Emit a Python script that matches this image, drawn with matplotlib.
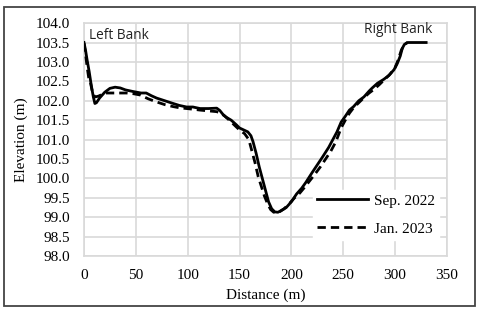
import matplotlib.pyplot as plt
from matplotlib.patches import Rectangle

# cross-section survey, distance (m) vs elevation (m)
sep_dist = [0, 1.5, 3, 5, 7, 9, 10.5, 12, 15, 20, 25, 30, 35, 40, 47, 55, 60, 65, 70, 78,
            86, 92, 99, 105, 112, 120, 128, 131, 134, 137, 142, 147, 150, 154, 158, 161,
            163, 166, 169, 172, 175, 178, 181, 184, 187, 190, 195, 200, 205, 210, 214,
            220, 225, 230, 236, 240, 244, 248, 252, 256, 260, 265, 270, 275, 278, 283,
            289, 294, 299, 302, 305, 307, 309, 312, 320, 330]
sep_elev = [103.5, 103.3, 103.05, 102.75, 102.4, 102.1, 101.93, 101.95, 102.07, 102.22,
            102.32, 102.35, 102.33, 102.28, 102.24, 102.2, 102.2, 102.13, 102.07, 102.0,
            101.93, 101.88, 101.84, 101.84, 101.8, 101.8, 101.81, 101.75, 101.65, 101.58,
            101.5, 101.38, 101.3, 101.25, 101.2, 101.1, 100.95, 100.65, 100.3, 100.0,
            99.7, 99.4, 99.22, 99.14, 99.13, 99.17, 99.25, 99.4, 99.6, 99.75, 99.9,
            100.15, 100.35, 100.55, 100.8, 101.0, 101.2, 101.45, 101.6, 101.76, 101.85,
            102.0, 102.1, 102.25, 102.33, 102.45, 102.55, 102.65, 102.8, 102.95, 103.15,
            103.35, 103.45, 103.5, 103.5, 103.5]

jan_dist = [0, 1.5, 3, 4.5, 6, 7.5, 9, 11, 14, 18, 22, 28, 35, 41, 48, 54, 62, 70, 78, 86,
            92, 99, 106, 112, 120, 128, 132, 136, 141, 146, 150, 155, 159, 162, 165, 168,
            171, 174, 177, 180, 183, 186, 189, 193, 198, 203, 208, 213, 218, 223, 228,
            233, 238, 243, 248, 252, 256, 260, 265, 270, 275, 280, 285, 290, 295, 300,
            303, 306, 309, 312]
jan_elev = [103.48, 103.2, 102.87, 102.6, 102.5, 102.3, 102.15, 102.1, 102.12, 102.17,
            102.2, 102.2, 102.2, 102.2, 102.18, 102.15, 102.05, 101.97, 101.9, 101.85,
            101.82, 101.8, 101.78, 101.76, 101.74, 101.72, 101.68, 101.6, 101.48, 101.35,
            101.25, 101.15, 101.0, 100.7, 100.4, 100.05, 99.8, 99.55, 99.35, 99.2, 99.13,
            99.12, 99.15, 99.22, 99.35, 99.5, 99.62, 99.78, 99.95, 100.12, 100.3, 100.5,
            100.7, 100.95, 101.3, 101.5, 101.68, 101.82, 101.95, 102.08, 102.2, 102.3,
            102.42, 102.55, 102.68, 102.85, 103.05, 103.3, 103.45, 103.5]

x_ticks = [0, 50, 100, 150, 200, 250, 300, 350]
y_ticks = [98.0 + 0.5 * i for i in range(13)]

serif = 'Liberation Serif'
grid_col = '#d9d9d9'

fig = plt.figure(figsize=(4.8, 3.12), dpi=100)
ax = fig.add_axes([0.175, 0.179, 0.756, 0.747])

ax.plot(sep_dist, sep_elev, color='black', lw=2, label='Sep. 2022', zorder=3)
ax.plot(jan_dist, jan_elev, color='black', lw=2, dashes=(3, 1.8), label='Jan. 2023', zorder=3)

ax.set_xlim(0, 350)
ax.set_ylim(98, 104)
ax.set_xticks(x_ticks)
ax.set_yticks(y_ticks)
ax.set_xticklabels([str(t) for t in x_ticks], fontfamily=serif, fontsize=11)
ax.set_yticklabels([f'{t:.1f}' for t in y_ticks], fontfamily=serif, fontsize=11)
ax.tick_params(length=0)
ax.tick_params(axis='y', pad=10)
ax.tick_params(axis='x', pad=9)
ax.grid(True, color=grid_col, lw=1.2, zorder=0)
ax.set_axisbelow(True)
for s in ax.spines.values():
    s.set_color(grid_col)
    s.set_linewidth(1.2)

ax.set_xlabel('Distance (m)', fontfamily=serif, fontsize=11, labelpad=5)
ax.set_ylabel('Elevation (m)', fontfamily=serif, fontsize=11, labelpad=6)

ax.text(0.014, 0.948, 'Left Bank', transform=ax.transAxes, fontfamily='Open Sans',
        fontsize=9.8, ha='left', va='center', color='#222222')
ax.text(0.961, 0.974, 'Right Bank', transform=ax.transAxes, fontfamily='Open Sans',
        fontsize=9.8, ha='right', va='center', color='#222222')

leg = ax.legend(loc='lower right', bbox_to_anchor=(1.0, 0.038), frameon=True,
                fancybox=False, framealpha=1, edgecolor='white', facecolor='white',
                prop={'family': serif, 'size': 11}, handlelength=3.3,
                labelspacing=0.95, handletextpad=0.45, borderpad=0.25)
leg.set_zorder(4)

fig.patches.append(Rectangle((4 / 480, 1 - 306 / 312), 471 / 480, 299 / 312,
                             transform=fig.transFigure, fill=False,
                             edgecolor='#444444', lw=1.3))

fig.savefig('out.png', dpi=100)
